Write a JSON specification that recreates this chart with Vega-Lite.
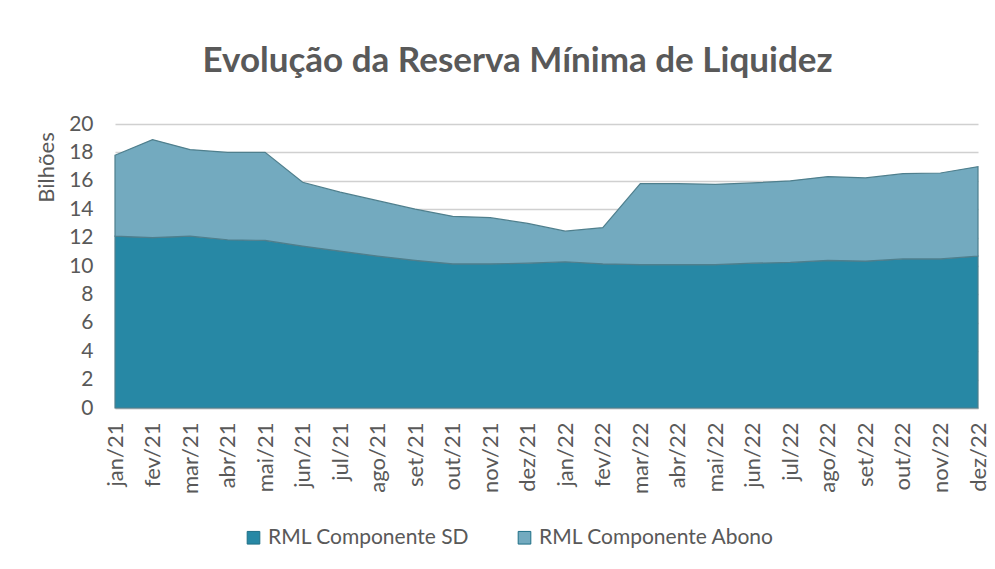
{
  "$schema": "https://vega.github.io/schema/vega-lite/v6.json",
  "autosize": "none",
  "width": 863,
  "height": 284,
  "padding": {"left": 115, "top": 124, "right": 17, "bottom": 161},
  "background": "white",
  "config": {
    "font": "Lato",
    "view": {"stroke": null},
    "axis": {"labelFont": "Lato", "titleFont": "Lato", "labelColor": "#595959", "titleColor": "#595959"}
  },
  "title": {
    "text": "Evolução da Reserva Mínima de Liquidez",
    "font": "Lato",
    "fontSize": 35,
    "fontWeight": "bold",
    "color": "#595959",
    "anchor": "middle",
    "dx": -29,
    "offset": 34
  },
  "data": {
    "values": [
      {"mes": "jan/21", "serie": "RML Componente SD", "ordem": 1, "valor": 12.1},
      {"mes": "fev/21", "serie": "RML Componente SD", "ordem": 1, "valor": 12.0},
      {"mes": "mar/21", "serie": "RML Componente SD", "ordem": 1, "valor": 12.1},
      {"mes": "abr/21", "serie": "RML Componente SD", "ordem": 1, "valor": 11.85},
      {"mes": "mai/21", "serie": "RML Componente SD", "ordem": 1, "valor": 11.8},
      {"mes": "jun/21", "serie": "RML Componente SD", "ordem": 1, "valor": 11.4},
      {"mes": "jul/21", "serie": "RML Componente SD", "ordem": 1, "valor": 11.05},
      {"mes": "ago/21", "serie": "RML Componente SD", "ordem": 1, "valor": 10.7},
      {"mes": "set/21", "serie": "RML Componente SD", "ordem": 1, "valor": 10.4},
      {"mes": "out/21", "serie": "RML Componente SD", "ordem": 1, "valor": 10.15},
      {"mes": "nov/21", "serie": "RML Componente SD", "ordem": 1, "valor": 10.15},
      {"mes": "dez/21", "serie": "RML Componente SD", "ordem": 1, "valor": 10.2},
      {"mes": "jan/22", "serie": "RML Componente SD", "ordem": 1, "valor": 10.3},
      {"mes": "fev/22", "serie": "RML Componente SD", "ordem": 1, "valor": 10.15},
      {"mes": "mar/22", "serie": "RML Componente SD", "ordem": 1, "valor": 10.1},
      {"mes": "abr/22", "serie": "RML Componente SD", "ordem": 1, "valor": 10.1},
      {"mes": "mai/22", "serie": "RML Componente SD", "ordem": 1, "valor": 10.1},
      {"mes": "jun/22", "serie": "RML Componente SD", "ordem": 1, "valor": 10.2},
      {"mes": "jul/22", "serie": "RML Componente SD", "ordem": 1, "valor": 10.25},
      {"mes": "ago/22", "serie": "RML Componente SD", "ordem": 1, "valor": 10.4},
      {"mes": "set/22", "serie": "RML Componente SD", "ordem": 1, "valor": 10.35},
      {"mes": "out/22", "serie": "RML Componente SD", "ordem": 1, "valor": 10.5},
      {"mes": "nov/22", "serie": "RML Componente SD", "ordem": 1, "valor": 10.5},
      {"mes": "dez/22", "serie": "RML Componente SD", "ordem": 1, "valor": 10.7},
      {"mes": "jan/21", "serie": "RML Componente Abono", "ordem": 2, "valor": 5.7},
      {"mes": "fev/21", "serie": "RML Componente Abono", "ordem": 2, "valor": 6.9},
      {"mes": "mar/21", "serie": "RML Componente Abono", "ordem": 2, "valor": 6.1},
      {"mes": "abr/21", "serie": "RML Componente Abono", "ordem": 2, "valor": 6.15},
      {"mes": "mai/21", "serie": "RML Componente Abono", "ordem": 2, "valor": 6.2},
      {"mes": "jun/21", "serie": "RML Componente Abono", "ordem": 2, "valor": 4.5},
      {"mes": "jul/21", "serie": "RML Componente Abono", "ordem": 2, "valor": 4.15},
      {"mes": "ago/21", "serie": "RML Componente Abono", "ordem": 2, "valor": 3.9},
      {"mes": "set/21", "serie": "RML Componente Abono", "ordem": 2, "valor": 3.6},
      {"mes": "out/21", "serie": "RML Componente Abono", "ordem": 2, "valor": 3.35},
      {"mes": "nov/21", "serie": "RML Componente Abono", "ordem": 2, "valor": 3.25},
      {"mes": "dez/21", "serie": "RML Componente Abono", "ordem": 2, "valor": 2.8},
      {"mes": "jan/22", "serie": "RML Componente Abono", "ordem": 2, "valor": 2.15},
      {"mes": "fev/22", "serie": "RML Componente Abono", "ordem": 2, "valor": 2.55},
      {"mes": "mar/22", "serie": "RML Componente Abono", "ordem": 2, "valor": 5.7},
      {"mes": "abr/22", "serie": "RML Componente Abono", "ordem": 2, "valor": 5.7},
      {"mes": "mai/22", "serie": "RML Componente Abono", "ordem": 2, "valor": 5.65},
      {"mes": "jun/22", "serie": "RML Componente Abono", "ordem": 2, "valor": 5.65},
      {"mes": "jul/22", "serie": "RML Componente Abono", "ordem": 2, "valor": 5.75},
      {"mes": "ago/22", "serie": "RML Componente Abono", "ordem": 2, "valor": 5.9},
      {"mes": "set/22", "serie": "RML Componente Abono", "ordem": 2, "valor": 5.85},
      {"mes": "out/22", "serie": "RML Componente Abono", "ordem": 2, "valor": 6.0},
      {"mes": "nov/22", "serie": "RML Componente Abono", "ordem": 2, "valor": 6.05},
      {"mes": "dez/22", "serie": "RML Componente Abono", "ordem": 2, "valor": 6.3}
    ]
  },
  "mark": {"type": "area", "stroke": "#4f7f8d", "strokeWidth": 1.2, "opacity": 1},
  "encoding": {
    "x": {
      "field": "mes",
      "type": "ordinal",
      "sort": null,
      "scale": {"type": "point", "padding": 0},
      "axis": {
        "title": null,
        "labelAngle": -90,
        "labelFontSize": 22,
        "labelPadding": 14,
        "ticks": false,
        "domainColor": "#bfbfbf",
        "domainWidth": 1.5,
        "grid": false
      }
    },
    "y": {
      "field": "valor",
      "type": "quantitative",
      "stack": "zero",
      "scale": {"domain": [0, 20], "nice": false},
      "axis": {
        "title": "Bilhões",
        "titleFontSize": 22,
        "titleFontWeight": "normal",
        "titleAngle": -90,
        "titleX": -69,
        "titleY": 43,
        "titleAlign": "center",
        "titleBaseline": "middle",
        "values": [0, 2, 4, 6, 8, 10, 12, 14, 16, 18, 20],
        "labelFontSize": 21,
        "labelPadding": 22,
        "ticks": false,
        "domain": false,
        "gridColor": "#d0d0d0",
        "gridWidth": 1.5
      }
    },
    "color": {
      "field": "serie",
      "type": "nominal",
      "sort": ["RML Componente SD", "RML Componente Abono"],
      "scale": {"domain": ["RML Componente SD", "RML Componente Abono"], "range": ["#2788a5", "#73aabf"]},
      "legend": {
        "title": null,
        "orient": "none",
        "direction": "horizontal",
        "legendX": 128,
        "legendY": 403,
        "symbolType": "square",
        "symbolSize": 160,
        "symbolStrokeColor": "#1f6f86",
        "symbolStrokeWidth": 1,
        "labelFontSize": 21,
        "labelLimit": 0,
        "labelColor": "#595959",
        "labelFont": "Lato",
        "columnPadding": 44,
        "labelOffset": 4
      }
    },
    "order": {"field": "ordem", "type": "quantitative"}
  }
}
